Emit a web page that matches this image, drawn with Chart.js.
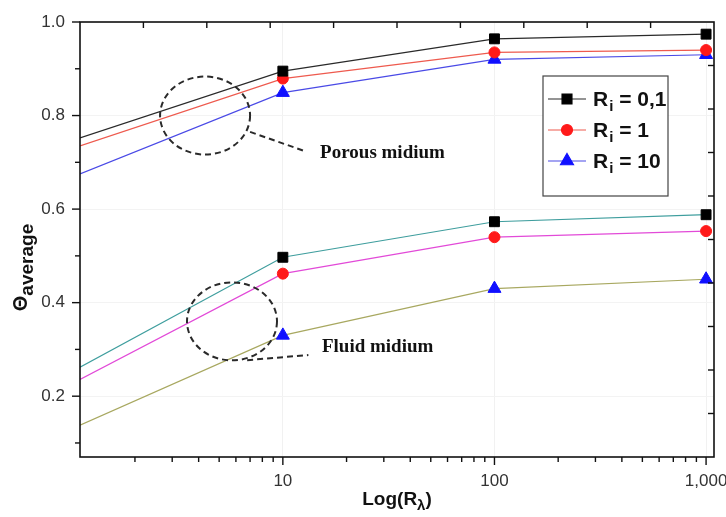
<!DOCTYPE html>
<html>
<head>
<meta charset="utf-8">
<script src="https://cdn.jsdelivr.net/npm/chart.js@4/dist/chart.umd.min.js"></script>
<style>
html,body{margin:0;padding:0;background:#fff;}
#wrap{width:726px;height:517px;position:relative;}
</style>
</head>
<body>
<div id="wrap"><canvas id="c" width="726" height="517"></canvas></div>
<script>
// ---- data ----
const xValues = [1.1, 10, 100, 1000];
const porousRi01 = [0.752, 0.895, 0.964, 0.974];
const porousRi1  = [0.735, 0.879, 0.935, 0.940];
const porousRi10 = [0.675, 0.849, 0.920, 0.930];
const fluidRi01  = [0.262, 0.497, 0.573, 0.588];
const fluidRi1   = [0.236, 0.462, 0.540, 0.553];
const fluidRi10  = [0.138, 0.330, 0.430, 0.450];
const legendLabels = [["R","i"," = 0,1"],["R","i"," = 1"],["R","i"," = 10"]];
const xMajorTicks = [10, 100, 1000];
const xMinorTicks = [2,3,4,5,6,7,8,9,20,30,40,50,60,70,80,90,200,300,400,500,600,700,800,900];
const yTicks = [0.1,0.2,0.3,0.4,0.5,0.6,0.7,0.8,0.9,1.0];
const yLabelTicks = [0.2,0.4,0.6,0.8,1.0];
const annotations = [
  {label:"Porous midium", cx:4.29, cy:0.80, from:[7.0,0.765], to:[12.5,0.725], tx:15.0, ty:0.719},
  {label:"Fluid midium",  cx:5.75, cy:0.36, from:[6.78,0.277], to:[13.2,0.288], tx:15.3, ty:0.305}
];

const pts = arr => arr.map((v,i)=>({x:xValues[i], y:v}));
const radii = r => xValues.map((x,i)=> i===0 ? 0 : r);

function ds(label, data, line, ptStyle, ptColor, r){
  return {label, data: pts(data), borderColor: line, borderWidth: 1.2,
    pointStyle: ptStyle, pointBackgroundColor: ptColor, pointBorderColor: ptColor,
    pointRadius: radii(r), pointHoverRadius: radii(r), pointBorderWidth: 1, tension: 0, fill:false};
}

const datasets = [
  ds("Ri = 0,1", porousRi01, "#2a2a2a", "rect", "#000000", 7),
  ds("Ri = 1",   porousRi1,  "#ee5a4e", "circle", "#ff1a1a", 5.5),
  ds("Ri = 10",  porousRi10, "#4a4ae6", "triangle", "#1010ff", 7.5),
  ds("fluid 0,1", fluidRi01, "#3f9e9e", "rect", "#000000", 7),
  ds("fluid 1",   fluidRi1,  "#e24ad8", "circle", "#ff1a1a", 5.5),
  ds("fluid 10",  fluidRi10, "#a8a860", "triangle", "#1010ff", 7.5)
];

const decor = {
  id:'decor',
  afterDraw(chart){
    const ctx = chart.ctx, a = chart.chartArea;
    const sx = chart.scales.x, sy = chart.scales.y, tx = chart.scales.x2, ty = chart.scales.y2;
    ctx.save();
    // frame
    ctx.strokeStyle = '#111'; ctx.lineWidth = 1.6;
    ctx.strokeRect(a.left, a.top, a.right-a.left, a.bottom-a.top);
    ctx.lineWidth = 1.4;
    // bottom ticks (outward)
    sx.ticks.forEach(t=>{
      const p = sx.getPixelForValue(t.value);
      const len = xMajorTicks.includes(t.value) ? 8 : 5;
      ctx.beginPath(); ctx.moveTo(p, a.bottom); ctx.lineTo(p, a.bottom+len); ctx.stroke();
    });
    // left ticks (outward)
    sy.ticks.forEach(t=>{
      const p = sy.getPixelForValue(t.value);
      const len = yLabelTicks.some(v=>Math.abs(v-t.value)<1e-6) ? 8 : 5;
      ctx.beginPath(); ctx.moveTo(a.left, p); ctx.lineTo(a.left-len, p); ctx.stroke();
    });
    // top ticks (inward)
    tx.ticks.forEach(t=>{
      const p = tx.getPixelForValue(t.value);
      ctx.beginPath(); ctx.moveTo(p, a.top); ctx.lineTo(p, a.top+6); ctx.stroke();
    });
    // right ticks (inward)
    ty.ticks.forEach(t=>{
      const p = ty.getPixelForValue(t.value);
      ctx.beginPath(); ctx.moveTo(a.right, p); ctx.lineTo(a.right-6, p); ctx.stroke();
    });

    // x title  Log(R_λ)
    ctx.fillStyle = '#111';
    ctx.textBaseline = 'alphabetic';
    const cxT = (a.left + a.right)/2;
    const p1 = 'Log(R', p3 = ')';
    ctx.font = 'bold 19px "Liberation Sans", Arial, sans-serif';
    const w1 = ctx.measureText(p1).width, w3 = ctx.measureText(p3).width;
    ctx.font = 'bold 15px "Liberation Sans", Arial, sans-serif';
    const w2 = ctx.measureText('λ').width;
    let xx = cxT - (w1+w2+w3)/2; const by = 505;
    ctx.textAlign = 'left';
    ctx.font = 'bold 19px "Liberation Sans", Arial, sans-serif';
    ctx.fillText(p1, xx, by); xx += w1;
    ctx.font = 'bold 15px "Liberation Sans", Arial, sans-serif';
    ctx.fillText('λ', xx, by+5); xx += w2;
    ctx.font = 'bold 19px "Liberation Sans", Arial, sans-serif';
    ctx.fillText(p3, xx, by);

    // y title  Θ_average
    ctx.save();
    ctx.translate(27, (a.top+a.bottom)/2);
    ctx.rotate(-Math.PI/2);
    ctx.font = 'bold 20px "Liberation Sans", Arial, sans-serif';
    const wt = ctx.measureText('Θ').width;
    ctx.font = 'bold 19px "Liberation Sans", Arial, sans-serif';
    const wa = ctx.measureText('average').width;
    let yx = -(wt+wa)/2 - 28;
    ctx.font = 'bold 20px "Liberation Sans", Arial, sans-serif';
    ctx.fillText('Θ', yx, 0); yx += wt;
    ctx.font = 'bold 19px "Liberation Sans", Arial, sans-serif';
    ctx.fillText('average', yx, 6);
    ctx.restore();

    // legend box
    const lx = 543, ly = 76, lw = 125, lh = 120;
    ctx.fillStyle = '#fff';
    ctx.fillRect(lx, ly, lw, lh);
    ctx.strokeStyle = '#444'; ctx.lineWidth = 1.2;
    ctx.strokeRect(lx, ly, lw, lh);
    const rowsY = [99, 130, 161];
    for (let i=0;i<3;i++){
      const d = chart.data.datasets[i];
      const y = rowsY[i];
      ctx.strokeStyle = d.borderColor; ctx.lineWidth = 1.2;
      ctx.beginPath(); ctx.moveTo(lx+5, y); ctx.lineTo(lx+43, y); ctx.stroke();
      ctx.fillStyle = d.pointBackgroundColor; ctx.strokeStyle = d.pointBorderColor;
      ctx.beginPath();
      Chart.helpers.drawPoint(ctx, {pointStyle:d.pointStyle, radius:d.pointRadius[1], rotation:0, borderWidth:1}, lx+24, y);
      const lab = legendLabels[i];
      ctx.fillStyle = '#111';
      let tx0 = lx + 50;
      ctx.font = 'bold 21px "Liberation Sans", Arial, sans-serif';
      ctx.fillText(lab[0], tx0, y+7); tx0 += ctx.measureText(lab[0]).width;
      ctx.font = 'bold 15px "Liberation Sans", Arial, sans-serif';
      ctx.fillText(lab[1], tx0+1, y+12); tx0 += ctx.measureText(lab[1]).width + 1;
      ctx.font = 'bold 21px "Liberation Sans", Arial, sans-serif';
      ctx.fillText(lab[2], tx0, y+7);
    }

    // annotations
    ctx.strokeStyle = '#2a2a2a'; ctx.lineWidth = 2;
    ctx.setLineDash([6,4]);
    annotations.forEach(an=>{
      const cx = sx.getPixelForValue(an.cx), cy = sy.getPixelForValue(an.cy);
      ctx.beginPath(); ctx.ellipse(cx, cy, 45, 39, 0, 0, Math.PI*2); ctx.stroke();
      ctx.beginPath();
      ctx.moveTo(sx.getPixelForValue(an.from[0]), sy.getPixelForValue(an.from[1]));
      ctx.lineTo(sx.getPixelForValue(an.to[0]), sy.getPixelForValue(an.to[1]));
      ctx.stroke();
    });
    ctx.setLineDash([]);
    ctx.fillStyle = '#111';
    ctx.font = 'bold 19px "Liberation Serif", "Times New Roman", serif';
    ctx.textBaseline = 'middle';
    annotations.forEach(an=>{
      ctx.fillText(an.label, sx.getPixelForValue(an.tx), sy.getPixelForValue(an.ty));
    });
    ctx.restore();
  }
};

new Chart(document.getElementById('c'), {
  type: 'line',
  data: { datasets },
  options: {
    responsive: false,
    animation: false,
    devicePixelRatio: 1,
    layout: { padding: { left: 0, right: 12, top: 22, bottom: 0 } },
    plugins: { legend: { display: false }, tooltip: { enabled: false } },
    scales: {
      x: {
        type: 'logarithmic', position: 'bottom', min: 1.1, max: 1090,
        afterBuildTicks: s => { s.ticks = xMinorTicks.concat(xMajorTicks).sort((p,q)=>p-q).map(v=>({value:v})); },
        afterFit: s => { s.height = 60; s.paddingLeft = 0; s.paddingRight = 0; },
        grid: { drawTicks: false, color: c => (c.tick && xMajorTicks.includes(c.tick.value)) ? '#f1f1f1' : 'rgba(0,0,0,0)' },
        border: { display: false },
        ticks: { autoSkip: false, maxRotation: 0, padding: 14, color: '#333',
          font: { size: 17, family: '"Liberation Sans", Arial, sans-serif' },
          callback: v => xMajorTicks.includes(v) ? v.toLocaleString('en-US') : '' }
      },
      y: {
        type: 'linear', position: 'left', min: 0.07, max: 1.0,
        afterBuildTicks: s => { s.ticks = yTicks.map(v=>({value:v})); },
        afterFit: s => { s.width = 80; s.paddingTop = 0; s.paddingBottom = 0; },
        grid: { drawTicks: false, color: c => (c.tick && yLabelTicks.some(v=>Math.abs(v-c.tick.value)<1e-6)) ? '#f3f3f3' : 'rgba(0,0,0,0)' },
        border: { display: false },
        ticks: { padding: 15, color: '#333',
          font: { size: 17, family: '"Liberation Sans", Arial, sans-serif' },
          callback: v => yLabelTicks.some(t=>Math.abs(t-v)<1e-6) ? v.toFixed(1) : '' }
      },
      x2: {
        type: 'linear', position: 'top', min: 0, max: 10,
        afterBuildTicks: s => { const t=[]; for (let i=1;i<10;i++) t.push({value:i}); s.ticks = t; },
        afterFit: s => { s.height = 0; s.paddingLeft = 0; s.paddingRight = 0; },
        grid: { display: false }, border: { display: false }, ticks: { display: false }
      },
      y2: {
        type: 'linear', position: 'right', min: 0, max: 10,
        afterBuildTicks: s => { const t=[]; for (let i=1;i<10;i++) t.push({value:i}); s.ticks = t; },
        afterFit: s => { s.width = 0; s.paddingTop = 0; s.paddingBottom = 0; },
        grid: { display: false }, border: { display: false }, ticks: { display: false }
      }
    }
  },
  plugins: [decor]
});
</script>
</body>
</html>
